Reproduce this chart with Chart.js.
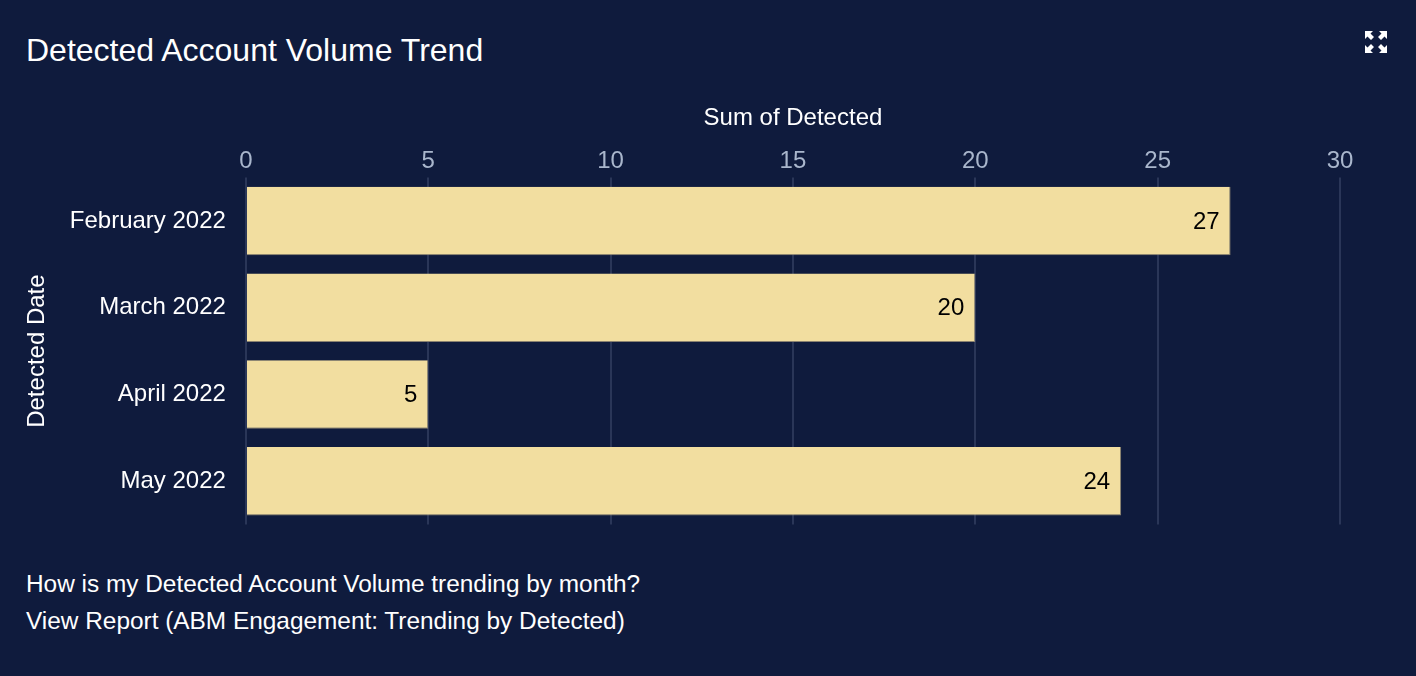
<!DOCTYPE html>
<html>
<head>
<meta charset="utf-8">
<script src="https://cdn.jsdelivr.net/npm/chart.js@4"></script>
<style>
    body { margin: 0; background: #0f1b3d; width: 1416px; height: 676px; overflow: hidden; font-family: "Liberation Sans", Arial, sans-serif; }
    .title { position: absolute; left: 26px; top: 32px; color: #fff; font-size: 32px; }
    .expand { position: absolute; left: 1365px; top: 31px; }
    .wrapper { position: absolute; left: 23px; top: 104px; width: 1360px; height: 447px; }
    .footer { position: absolute; left: 26px; color: #fff; font-size: 24.4px; }
</style>
</head>
<body>
<div class="title">Detected Account Volume Trend</div>
<svg class="expand" width="22" height="22" viewBox="0 0 22 22" fill="#fff">
    <polygon points="0,0 8,0 5.5,2.5 9,6 6,9 2.5,5.5 0,8"/>
    <polygon points="22,0 14,0 16.5,2.5 13,6 16,9 19.5,5.5 22,8"/>
    <polygon points="0,22 8,22 5.5,19.5 9,16 6,13 2.5,16.5 0,14"/>
    <polygon points="22,22 14,22 16.5,19.5 13,16 16,13 19.5,16.5 22,14"/>
</svg>
<div class="wrapper"><canvas id="barChart"></canvas></div>
<div class="footer" style="top:570px">How is my Detected Account Volume trending by month?</div>
<div class="footer" style="top:607px">View Report (ABM Engagement: Trending by Detected)</div>

<script>
const months = ['February 2022', 'March 2022', 'April 2022', 'May 2022']
const detected = [27, 20, 5, 24]
const xTicks = [0, 5, 10, 15, 20, 25, 30]

const line = document.getElementById('barChart')
const fontFamily = '"Liberation Sans", Arial, sans-serif'

// writes the value inside the end of each bar
const valueLabels = {
    id: 'valueLabels',
    afterDatasetsDraw(chart) {
        const c = chart.ctx
        c.save()
        c.font = '24px ' + fontFamily
        c.fillStyle = '#000'
        c.textAlign = 'right'
        c.textBaseline = 'middle'
        chart.getDatasetMeta(0).data.forEach((bar, i) => {
            c.fillText(detected[i], bar.x - 11, bar.y + 1)
        })
        c.restore()
    }
}

const barChart = new Chart(line, {
    type: 'bar',
    data: {
        labels: months,
        datasets: [{
            label: 'Sum of Detected',
            data: detected,
            backgroundColor: '#f2dea0',
            borderColor: '#8a8270',
            borderWidth: { right: 1, bottom: 1 },
            categoryPercentage: 0.79,
            barPercentage: 1
        }]
    },
    options: {
        responsive: true,
        maintainAspectRatio: false,
        animation: false,
        plugins: {
            legend: { display: false },
            tooltip: { enabled: false }
        },
        layout: { padding: { right: 43 } },
        indexAxis: 'y',
        scales: {
            x: {
                position: 'top',
                min: xTicks[0],
                max: xTicks[xTicks.length - 1],
                afterBuildTicks: axis => { axis.ticks = xTicks.map(v => ({ value: v })) },
                title: {
                    display: true,
                    text: 'Sum of Detected',
                    color: '#fff',
                    font: { size: 24, family: fontFamily },
                    padding: { top: 0, bottom: 12 }
                },
                ticks: {
                    color: '#a9b6cc',
                    font: { size: 24, family: fontFamily },
                    padding: 2
                },
                grid: { color: '#2a3658', lineWidth: 2, tickLength: 0 },
                border: { display: false }
            },
            y: {
                title: {
                    display: true,
                    text: 'Detected Date',
                    color: '#fff',
                    font: { size: 24, family: fontFamily },
                    padding: { top: 0, bottom: 6 }
                },
                ticks: {
                    color: '#fff',
                    font: { size: 24, family: fontFamily },
                    padding: 12
                },
                grid: { display: false },
                border: { display: false }
            }
        }
    },
    plugins: [valueLabels]
});
</script>
</body>
</html>
